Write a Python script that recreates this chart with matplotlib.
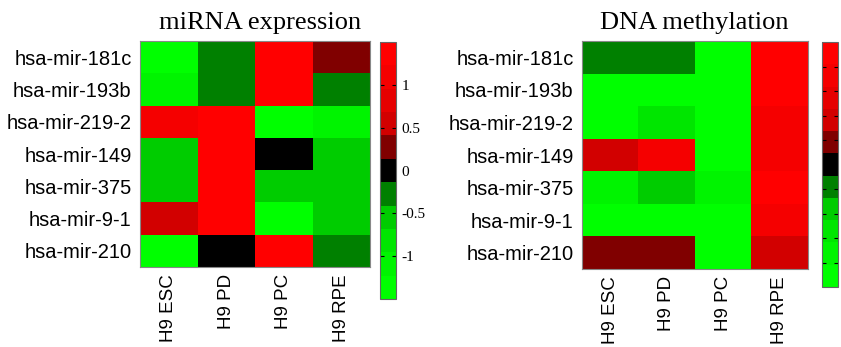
import numpy as np
import matplotlib.pyplot as plt
from matplotlib.colors import ListedColormap

# filas y columnas
mirnas = ["hsa-mir-181c", "hsa-mir-193b", "hsa-mir-219-2", "hsa-mir-149",
          "hsa-mir-375", "hsa-mir-9-1", "hsa-mir-210"]
celulas = ["H9 ESC", "H9 PD", "H9 PC", "H9 RPE"]

# expresion de miRNA (escala -1.5 .. 1.5)
expr_181c = [-1.3, -0.3, 1.3, 0.25]
expr_193b = [-1.2, -0.3, 1.3, -0.3]
expr_219 = [1.1, 1.3, -1.3, -1.2]
expr_149 = [-0.6, 1.3, 0.0, -0.6]
expr_375 = [-0.6, 1.3, -0.6, -0.6]
expr_91 = [0.55, 1.3, -1.3, -0.6]
expr_210 = [-1.3, 0.0, 1.3, -0.3]

# metilacion de ADN (escala 0 .. 1)
met_181c = [0.4, 0.4, 0.05, 0.95]
met_193b = [0.05, 0.05, 0.05, 0.93]
met_219 = [0.05, 0.25, 0.05, 0.88]
met_149 = [0.68, 0.9, 0.05, 0.9]
met_375 = [0.1, 0.28, 0.12, 0.92]
met_91 = [0.05, 0.05, 0.05, 0.88]
met_210 = [0.6, 0.6, 0.05, 0.7]

expr = np.array([expr_181c, expr_193b, expr_219, expr_149, expr_375, expr_91, expr_210])
met = np.array([met_181c, met_193b, met_219, met_149, met_375, met_91, met_210])

# mapa de colores verde-negro-rojo de 11 niveles
colores = ['#00ff00', '#00f400', '#00e600', '#00cc00', '#008000', '#000000',
           '#800000', '#d20000', '#e60000', '#f50000', '#ff0000']
cmap = ListedColormap(colores)

fig = plt.figure(figsize=(8.41, 3.47), dpi=100)

def heatmap(pos, cpos, datos, vmin, vmax, titulo, tx, ticks, etiquetas):
    ax = fig.add_axes(pos)
    im = ax.imshow(datos, cmap=cmap, vmin=vmin, vmax=vmax, aspect='auto',
                   interpolation='nearest')
    ax.set_yticks(range(len(mirnas)))
    ax.set_yticklabels(mirnas, family='Liberation Sans', fontsize=14.5)
    ax.set_xticks(range(len(celulas)))
    ax.set_xticklabels(celulas, rotation=90, family='Liberation Sans', fontsize=13.5)
    ax.tick_params(axis='y', length=0, pad=6)
    ax.tick_params(axis='x', length=0, pad=5)
    for s in ax.spines.values():
        s.set_color('#888888')
        s.set_linewidth(0.8)
    cax = fig.add_axes(cpos)
    cb = fig.colorbar(im, cax=cax)
    cb.set_ticks(ticks)
    cb.set_ticklabels(etiquetas)
    cax.tick_params(direction='in', left=True, right=True, length=3, width=0.8,
                    labelsize=11, pad=4)
    for t in cax.get_yticklabels():
        t.set_family('Liberation Serif')
    cb.outline.set_edgecolor('#666666')
    cb.outline.set_linewidth(0.8)
    fig.text(tx, 0.935, titulo, ha='center', va='center',
             family='Liberation Serif', fontsize=19)

heatmap([0.1665, 0.2305, 0.2735, 0.651], [0.4518, 0.1383, 0.019, 0.7406],
        expr, -1.5, 1.5, "miRNA expression", 0.309,
        [-1, -0.5, 0, 0.5, 1], ["-1", "-0.5", "0", "0.5", "1"])

ticks_met = [0.1, 0.2, 0.3, 0.4, 0.5, 0.6, 0.7, 0.8, 0.9]
heatmap([0.692, 0.2248, 0.2687, 0.657], [0.9774, 0.1729, 0.019, 0.706],
        met, 0.0, 1.0, "DNA methylation", 0.826,
        ticks_met, [""] * len(ticks_met))

plt.savefig('out.png', dpi=100)
